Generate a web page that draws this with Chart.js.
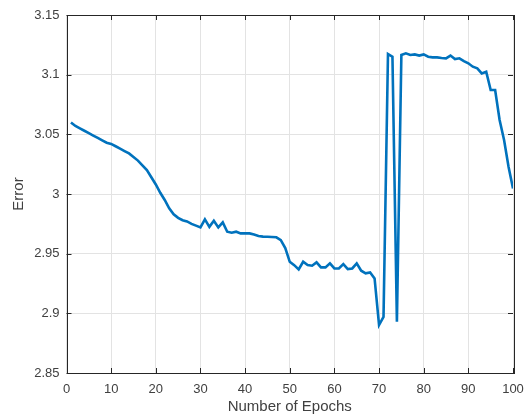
<!DOCTYPE html>
<html>
<head>
<meta charset="utf-8">
<script src="https://cdn.jsdelivr.net/npm/chart.js@4.4.1/dist/chart.umd.min.js"></script>
<style>
  html, body { margin: 0; padding: 0; background: #fff; }
  #wrap { width: 524px; height: 419px; position: relative; }
</style>
</head>
<body>
<div id="wrap"><canvas id="chart"></canvas></div>
<script>
// training error per epoch
const epochs = [];
for (let i = 1; i <= 100; i++) epochs.push(i);

const errors = [
  3.060, 3.057, 3.055, 3.053, 3.051, 3.049, 3.047, 3.045, 3.043, 3.042,
  3.040, 3.038, 3.036, 3.034, 3.031, 3.028, 3.024, 3.020, 3.014, 3.008,
  3.001, 2.995, 2.988, 2.983, 2.980, 2.978, 2.977, 2.975, 2.9735, 2.972,
  2.9787, 2.9725, 2.9776, 2.972, 2.9762, 2.9684, 2.9675, 2.9684, 2.967, 2.967,
  2.967, 2.966, 2.9648, 2.9643, 2.9642, 2.9640, 2.9637, 2.9614, 2.9547, 2.9432,
  2.9404, 2.9368, 2.9432, 2.9404, 2.9399, 2.9427, 2.9385, 2.9385, 2.9419, 2.9376,
  2.9376, 2.9413, 2.9371, 2.9376, 2.9419, 2.9357, 2.9335, 2.9343, 2.9293, 2.8902,
  2.897, 3.1173, 3.115, 2.893, 3.1165, 3.1179, 3.1165, 3.117, 3.116, 3.117,
  3.115, 3.1145, 3.1145, 3.114, 3.1137, 3.116, 3.1131, 3.1137, 3.1114, 3.1095,
  3.1067, 3.1053, 3.1011, 3.1025, 3.0871, 3.0871, 3.062, 3.0452, 3.0229, 3.0047
];

const xTicks = [0, 10, 20, 30, 40, 50, 60, 70, 80, 90, 100];
const yTicks = [2.85, 2.9, 2.95, 3, 3.05, 3.1, 3.15];

const axisColor = '#262626';
const textColor = '#404040';
const gridColor = '#e3e3e3';
const family = '"Liberation Sans", Arial, sans-serif';
const tickFont = { family, size: 13 };
const titleFont = { family, size: 15 };

// box around the plot area plus inward tick marks
const boxPlugin = {
  id: 'box',
  afterDatasetsDraw(chart) {
    const { ctx, chartArea: a, scales } = chart;
    ctx.save();
    ctx.strokeStyle = axisColor;
    ctx.lineWidth = 1;
    ctx.beginPath();
    const len = 5;
    xTicks.forEach(v => {
      const px = Math.round(scales.x.getPixelForValue(v)) + 0.5;
      ctx.moveTo(px, a.bottom); ctx.lineTo(px, a.bottom - len);
      ctx.moveTo(px, a.top); ctx.lineTo(px, a.top + len);
    });
    yTicks.forEach(v => {
      const py = Math.round(scales.y.getPixelForValue(v)) + 0.5;
      ctx.moveTo(a.left, py); ctx.lineTo(a.left + len, py);
      ctx.moveTo(a.right, py); ctx.lineTo(a.right - len, py);
    });
    ctx.stroke();
    ctx.strokeRect(Math.round(a.left) + 0.5, Math.round(a.top) + 0.5,
      Math.round(a.right - a.left), Math.round(a.bottom - a.top));
    ctx.restore();
  }
};

new Chart(document.getElementById('chart'), {
  type: 'line',
  data: {
    datasets: [{
      data: epochs.map((e, i) => ({ x: e, y: errors[i] })),
      borderColor: '#0072BD',
      borderWidth: 2.6,
      pointRadius: 0,
      tension: 0,
      fill: false
    }]
  },
  options: {
    responsive: true,
    maintainAspectRatio: false,
    animation: false,
    devicePixelRatio: 1,
    layout: { padding: { top: 15, right: 11, left: 0, bottom: 0 } },
    plugins: { legend: { display: false }, tooltip: { enabled: false } },
    scales: {
      x: {
        type: 'linear',
        min: 0,
        max: 100,
        afterBuildTicks: s => { s.ticks = xTicks.map(v => ({ value: v })); },
        afterFit: s => { s.height = 46; s.paddingLeft = 0; s.paddingRight = 0; },
        grid: { color: gridColor, drawTicks: false },
        border: { display: false },
        ticks: { color: textColor, font: tickFont, padding: 9, maxRotation: 0 },
        title: {
          display: true,
          text: 'Number of Epochs',
          color: textColor,
          font: titleFont,
          padding: { top: 0, bottom: 3 }
        }
      },
      y: {
        min: 2.85,
        max: 3.15,
        afterBuildTicks: s => { s.ticks = yTicks.map(v => ({ value: v })); },
        afterFit: s => { s.width = 66.5; s.paddingTop = 0; s.paddingBottom = 0; },
        grid: { color: gridColor, drawTicks: false },
        border: { display: false },
        ticks: { color: textColor, font: tickFont, padding: 7, callback: v => String(v) },
        title: {
          display: true,
          text: 'Error',
          color: textColor,
          font: titleFont,
          padding: { top: 10, bottom: 0 }
        }
      }
    }
  },
  plugins: [boxPlugin]
});
</script>
</body>
</html>
